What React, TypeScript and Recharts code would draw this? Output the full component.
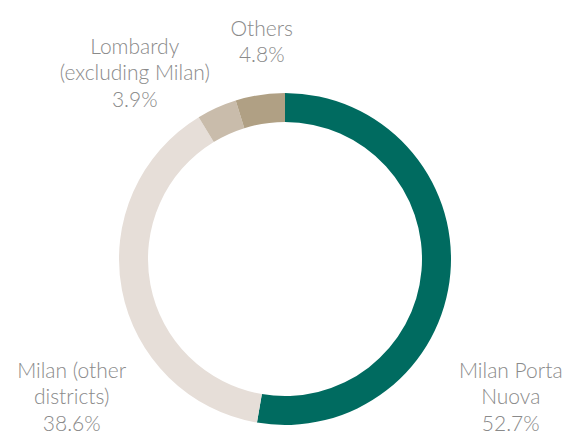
import React from "react";
import { PieChart, Pie, Cell } from "recharts";

const categories = ["Milan Porta Nuova", "Milan (other districts)", "Lombardy (excluding Milan)", "Others"];
const shares = [52.7, 38.6, 3.9, 4.8];
const labelLines = [
  ["Milan Porta", "Nuova"],
  ["Milan (other", "districts)"],
  ["Lombardy", "(excluding Milan)"],
  ["Others"],
];
const colors = ["#006b60", "#e6ded8", "#c9bcab", "#b0a084"];
// label centre offsets relative to pie centre, in units of outer radius (style)
const labelOffsets = [
  [1.36, 0.82],
  [-1.285, 0.82],
  [-0.905, -1.13],
  [-0.14, -1.32],
];

const data = categories.map((name, i) => ({ name, value: shares[i] }));

const LINE_H = 26.5;

const renderLabel = (props: any) => {
  const { cx, cy, outerRadius, index, value } = props;
  const lines = [...labelLines[index], `${value.toFixed(1)}%`];
  const [ox, oy] = labelOffsets[index];
  const x = cx + ox * outerRadius;
  const yc = cy + oy * outerRadius;
  const y0 = yc - ((lines.length - 1) * LINE_H) / 2;
  return (
    <text
      x={x}
      y={y0}
      textAnchor="middle"
      dominantBaseline="central"
      fill="#8a8a8a"
      fontFamily="Lato, 'Open Sans', sans-serif"
      fontWeight={300}
      fontSize={21}
    >
      {lines.map((l, i) => (
        <tspan key={i} x={x} y={y0 + i * LINE_H} dominantBaseline="central">
          {l}
        </tspan>
      ))}
    </text>
  );
};

export default function App() {
  return (
    <div style={{ position: "absolute", left: 0, top: 0, width: 568, height: 431, background: "#fff" }}>
      <PieChart width={568} height={431} margin={{ top: 0, right: 0, bottom: 0, left: 0 }}>
        <Pie
          data={data}
          dataKey="value"
          nameKey="name"
          cx={285}
          cy={259}
          innerRadius={137}
          outerRadius={166}
          startAngle={90}
          endAngle={-270}
          stroke="none"
          label={renderLabel}
          labelLine={false}
          isAnimationActive={false}
        >
          {data.map((d, i) => (
            <Cell key={d.name} fill={colors[i]} />
          ))}
        </Pie>
      </PieChart>
    </div>
  );
}
